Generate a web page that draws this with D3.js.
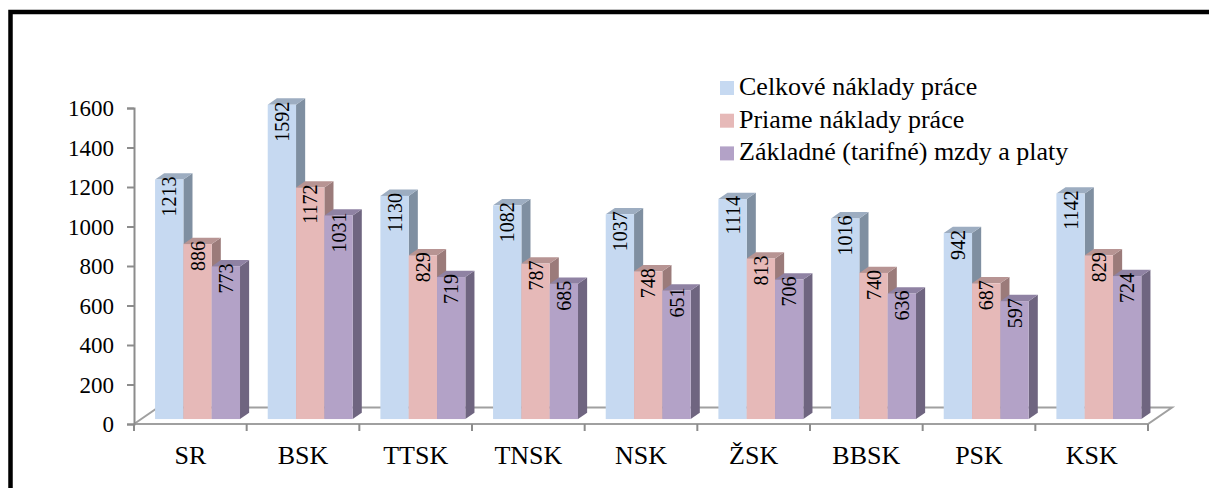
<!DOCTYPE html>
<html><head><meta charset="utf-8">
<script src="https://cdn.jsdelivr.net/npm/d3@7"></script>
<style>
body{margin:0;background:#fff;overflow:hidden}
svg{display:block}
svg text{font-family:"Liberation Serif","Times New Roman","DejaVu Serif",serif !important;fill:#000}
</style>
</head><body>
<svg id="chart" width="1209" height="488"></svg>
<script>
const categories = ["SR","BSK","TTSK","TNSK","NSK","ŽSK","BBSK","PSK","KSK"];
const seriesNames = ["Celkové náklady práce","Priame náklady práce","Základné (tarifné) mzdy a platy"];
const celkove  = [1213,1592,1130,1082,1037,1114,1016,942,1142];
const priame   = [886,1172,829,787,748,813,740,687,829];
const zakladne = [773,1031,719,685,651,706,636,597,724];
const yTicks = [0,200,400,600,800,1000,1200,1400,1600];

const seriesValues = [celkove, priame, zakladne];
const frontColors = ["#c6d9f1","#e6b9b8","#b3a2c7"];
const topColors   = ["#9dadc1","#b79493","#8f82a3"];
const sideColors  = ["#7f8fa1","#9b7b7a","#6f6580"];
const FONT = "Liberation Serif";

const svg = d3.select("#chart");

// frame
svg.append("rect").attr("x",10.5).attr("y",12).attr("width",1230).attr("height",520)
  .attr("fill","none").attr("stroke","#000").attr("stroke-width",4.5);

const y = d3.scaleLinear().domain([0,1600]).range([424,108]);
const x0 = d3.scaleBand().domain(categories).range([134,1148]).paddingInner(0.246).paddingOuter(0.123);
const x1 = d3.scaleBand().domain(seriesNames).range([0,x0.bandwidth()]);

const D = {dx:24, dy:-16.5};
const fFront = 0.3, fBack = 0.68;
const off = f => ({x:D.dx*f, y:D.dy*f});
const oF = off(fFront), oB = off(fBack);

const axisColor = "#8c8c8c";
// floor
const x0r = x0.range();
svg.append("path").attr("fill","none").attr("stroke","#a0a0a0").attr("stroke-width",2)
  .attr("d", d3.line()([
    [x0r[0], y(0)], [x0r[1], y(0)], [x0r[1]+D.dx, y(0)+D.dy], [x0r[0]+D.dx, y(0)+D.dy], [x0r[0], y(0)]
  ]));

// y axis
const yAxis = d3.axisLeft(y).tickValues(yTicks).tickSize(7).tickPadding(13).tickFormat(d3.format("d"));
const ya = svg.append("g").attr("transform","translate(134,0)").call(yAxis)
  .attr("font-family",FONT).attr("font-size",23);
ya.select(".domain").attr("stroke",axisColor).attr("stroke-width",2);
ya.selectAll(".tick line").attr("stroke",axisColor).attr("stroke-width",2);
ya.selectAll(".tick text").attr("fill","#000").attr("dy","0.34em");

// x axis (ticks at category boundaries)
const boundaries = categories.map(c => x0(c) - x0.step()*x0.paddingOuter()).concat([x0r[1]]);
svg.append("g").selectAll("line").data(boundaries).join("line")
  .attr("x1",d=>d).attr("x2",d=>d).attr("y1",y(0)).attr("y2",y(0)+7)
  .attr("stroke",axisColor).attr("stroke-width",2);
svg.append("g").attr("font-family",FONT).attr("font-size",26)
  .selectAll("text").data(categories).join("text")
  .attr("x",c=>x0(c)+x0.bandwidth()/2).attr("y",464)
  .attr("text-anchor","middle").text(c=>c);

// bars
const bw = x1.bandwidth();
const sdx = oB.x - oF.x, sdy = oB.y - oF.y;
const bars = svg.append("g");
categories.forEach((c,ci) => {
  seriesNames.forEach((s,si) => {
    const v = seriesValues[si][ci];
    const xl = x0(c) + x1(s) + oF.x;
    const xr = xl + bw;
    const yt = y(v) + oF.y;
    const yb = y(0) + oF.y;
    const g = bars.append("g");
    g.append("path").attr("d", d3.line()([[xr,yt],[xr+sdx,yt+sdy],[xr+sdx,yb+sdy],[xr,yb]]))
      .attr("fill",sideColors[si]);
    g.append("path").attr("d", d3.line()([[xl,yt],[xr,yt],[xr+sdx,yt+sdy],[xl+sdx,yt+sdy]]))
      .attr("fill",topColors[si]);
    g.append("rect").attr("x",xl).attr("y",yt).attr("width",bw).attr("height",yb-yt)
      .attr("fill",frontColors[si]);
  });
});
// labels
const lab = svg.append("g").attr("font-family",FONT).attr("font-size",20);
categories.forEach((c,ci) => {
  seriesNames.forEach((s,si) => {
    const v = seriesValues[si][ci];
    const cx = x0(c) + x1(s) + oF.x + bw/2;
    const yt = y(v) + oF.y;
    lab.append("text")
      .attr("transform",`translate(${cx},${yt-3}) rotate(-90)`)
      .attr("text-anchor","end").attr("dy","0.35em").text(v);
  });
});

// legend
const legend = svg.append("g").attr("transform","translate(720,81)")
  .attr("font-family",FONT).attr("font-size",26);
seriesNames.forEach((s,i) => {
  const row = legend.append("g").attr("transform",`translate(0,${i*32.7})`);
  row.append("rect").attr("width",14).attr("height",14).attr("fill",frontColors[i]);
  row.append("text").attr("x",19).attr("y",14).text(s);
});
</script>
</body></html>
